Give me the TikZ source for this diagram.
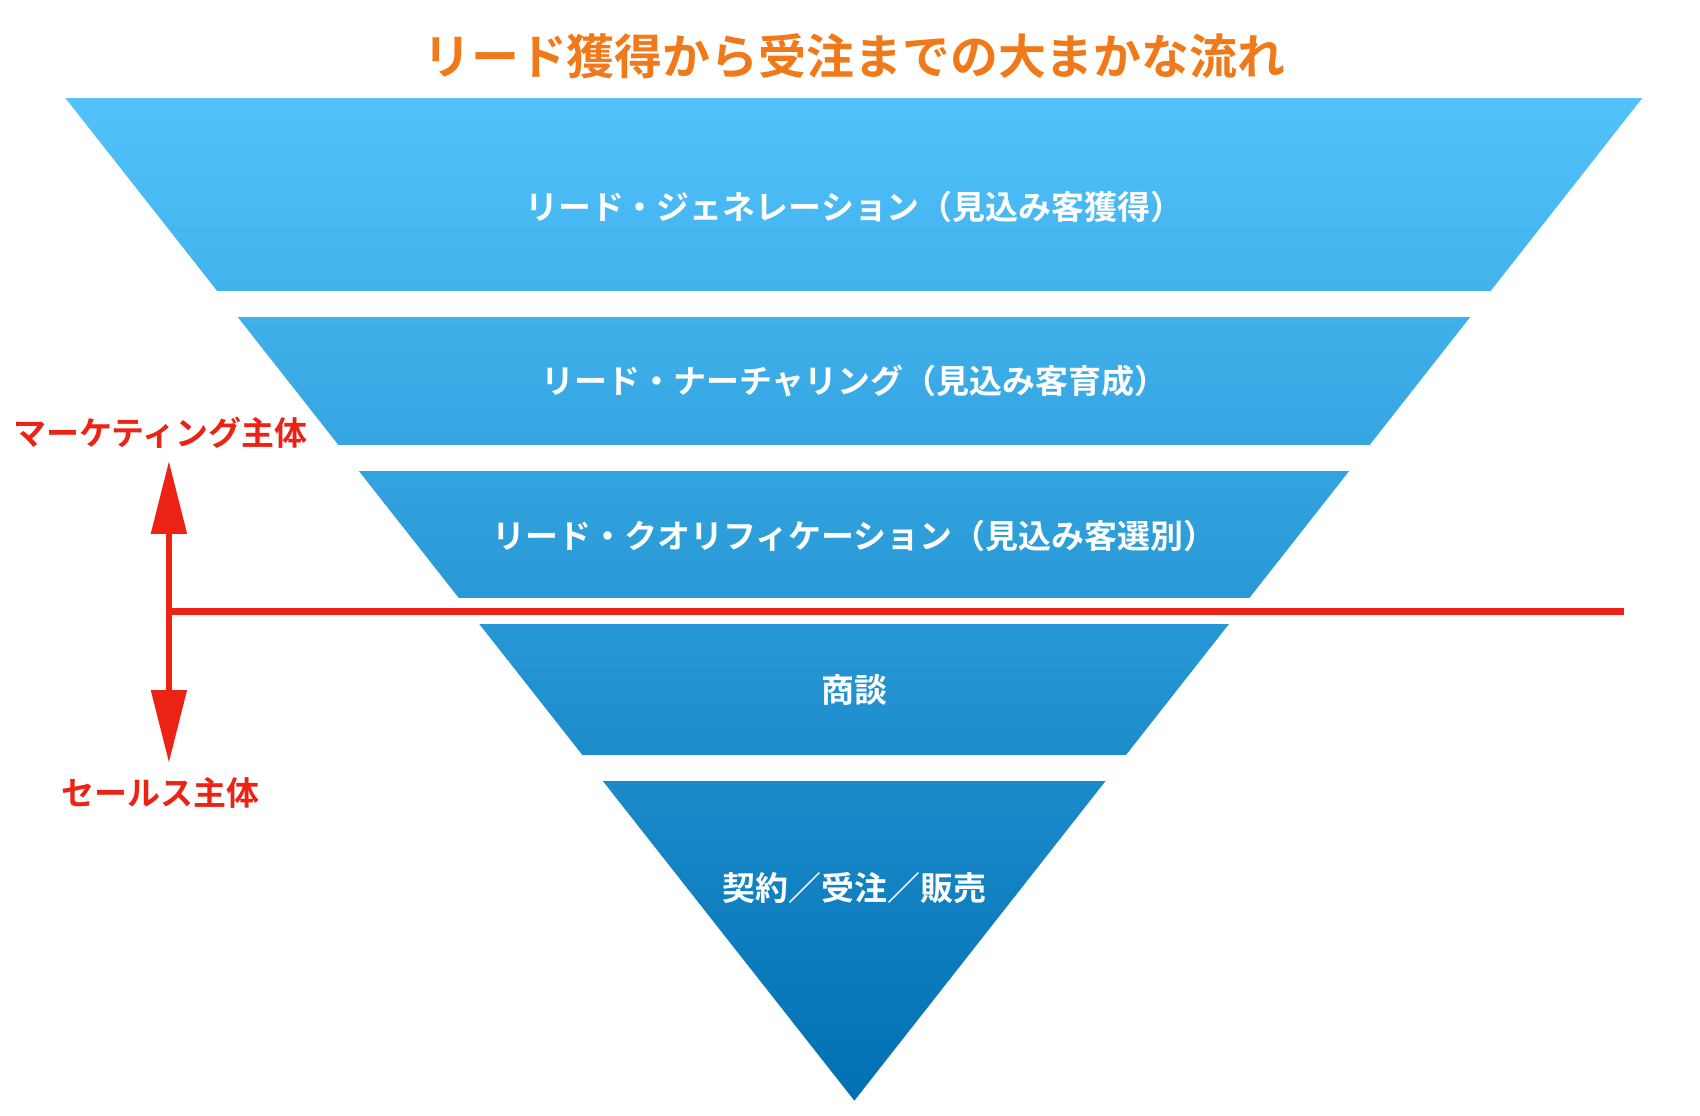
\documentclass[tikz,border=0pt]{standalone}
\usepackage{fontspec}
\newfontfamily\jp{Noto Sans CJK JP Bold}
\usetikzlibrary{arrows.meta}
\definecolor{ftop}{HTML}{52C2FB}
\definecolor{fbot}{HTML}{0070B2}
\definecolor{redc}{HTML}{EC2314}
\definecolor{orc}{HTML}{F07A1A}
\tikzset{band/.style={font=\jp\fontsize{8.6}{10}\selectfont,text=white},
lab/.style={font=\jp\fontsize{8.6}{10}\selectfont,text=redc}}
\begin{document}
\begin{tikzpicture}[x=0.01cm,y=-0.01cm]
\useasboundingbox (0,0) rectangle (1560,1024);
\shade[top color=ftop,bottom color=fbot] (60,90) -- (1507,90) -- (784,1010) -- cycle;
\foreach \a/\b in {267/291,408/432,549/573,693/717}
  \fill[white] (0,\a) rectangle (1560,\b);
\node[font=\jp\fontsize{12.5}{14}\selectfont,text=orc] (title) at (784,52) {リード獲得から受注までの大まかな流れ};
\node[band] (b1) at (784,190) {リード・ジェネレーション（見込み客獲得）};
\node[band] (b2) at (784,350) {リード・ナーチャリング（見込み客育成）};
\node[band] (b3) at (784,492) {リード・クオリフィケーション（見込み客選別）};
\node[band] (b4) at (784,633) {商談};
\node[band] (b5) at (784,815) {契約／受注／販売};
\node[lab] (mk) at (147,397) {マーケティング主体};
\node[lab] (sl) at (147,728) {セールス主体};
\coordinate (lt) at (155,423);
\coordinate (lb) at (155,700);
\coordinate (h1) at (155,561);
\coordinate (h2) at (1490,561);
\draw[redc,line width=1.7pt] (h1) -- (h2);
\draw[redc,line width=1.7pt,{Triangle[width=9pt,length=19pt]}-{Triangle[width=9pt,length=19pt]}] (lt) -- (lb);
\end{tikzpicture}
\end{document}
